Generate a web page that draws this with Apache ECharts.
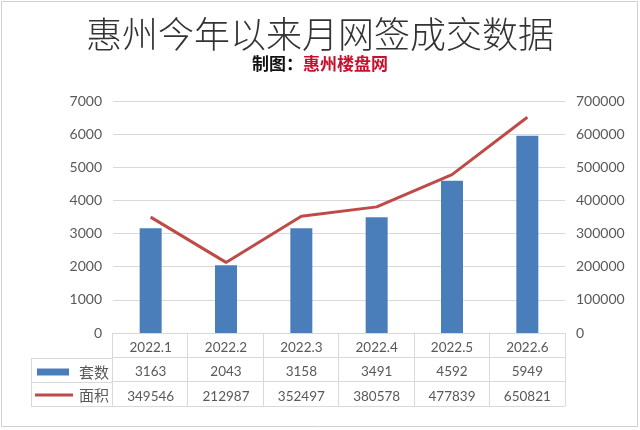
<!DOCTYPE html>
<html>
<head>
<meta charset="utf-8">
<script src="https://cdn.jsdelivr.net/npm/echarts@6/dist/echarts.min.js"></script>
<style>html,body{margin:0;padding:0;background:#fff;}#c{width:640px;height:430px;}</style>
</head>
<body>
<div id="c"></div>
<script>
const categories = ['2022.1', '2022.2', '2022.3', '2022.4', '2022.5', '2022.6'];
const units = [3163, 2043, 3158, 3491, 4592, 5949];
const areas = [349546, 212987, 352497, 380578, 477839, 650821];
const leftTicks = [0, 7000, 1000];
const rightTicks = [0, 700000, 100000];

const chart = echarts.init(document.getElementById('c'), null, {renderer: 'canvas'});
const gridColor = '#D9D9D9';
const textColor = '#595959';
const numFont = 'Lato, "Noto Sans", sans-serif';
const cjkFont = '"Noto Sans CJK SC", sans-serif';
const titleFont = '"Noto Sans CJK SC Light", "Noto Sans CJK SC DemiLight", "Noto Sans CJK SC", sans-serif';

chart.setOption({
  backgroundColor: '#fff',
  animation: false,
  title: [
    {text: '惠州今年以来月网签成交数据', left: 'center', top: 11,
     textStyle: {fontSize: 36, fontWeight: 300, color: '#333', fontFamily: titleFont}},
    {text: '{a|制图：}{b|惠州楼盘网}', left: 'center', top: 50,
     textStyle: {rich: {
       a: {fontSize: 17, fontWeight: 'bold', color: '#111', fontFamily: cjkFont},
       b: {fontSize: 17, fontWeight: 'bold', color: '#C8102E', fontFamily: cjkFont}
     }}}
  ],
  legend: [
    {data: ['套数'], left: 37, top: 364, padding: 0, itemWidth: 32, itemHeight: 7, icon: 'rect',
     textStyle: {fontSize: 15, color: textColor, fontFamily: cjkFont, lineHeight: 16, padding: [0, 0, 0, 5]}},
    {data: ['面积'], left: 35, top: 387, padding: 0, itemWidth: 38, itemHeight: 3, icon: 'rect',
     textStyle: {fontSize: 15, color: textColor, fontFamily: cjkFont, lineHeight: 16, padding: [0, 0, 0, 1]}}
  ],
  grid: [
    {left: 113, right: 75, top: 101, bottom: 97},
    {left: 112, right: 75, top: 333, height: 73},
    {left: 31, width: 81, top: 358.67, height: 47.33}
  ],
  xAxis: [
    {type: 'category', data: categories, gridIndex: 0,
     axisLine: {show: false}, axisTick: {show: false},
     axisLabel: {margin: 2, lineHeight: 24.5, fontSize: 13.5, color: textColor, fontFamily: numFont,
       formatter: (v, i) => v + '\n' + units[i] + '\n' + areas[i]}},
    {type: 'category', data: categories, gridIndex: 1, boundaryGap: true,
     axisLine: {show: false}, axisTick: {show: false}, axisLabel: {show: false},
     splitLine: {show: true, lineStyle: {color: gridColor, width: 1}}},
    {type: 'value', min: 0, max: 1, interval: 1, gridIndex: 2,
     axisLine: {show: false}, axisTick: {show: false}, axisLabel: {show: false},
     splitLine: {show: true, lineStyle: {color: gridColor, width: 1}}}
  ],
  yAxis: [
    {type: 'value', gridIndex: 0, min: leftTicks[0], max: leftTicks[1], interval: leftTicks[2],
     axisLine: {show: false}, axisTick: {show: false},
     axisLabel: {margin: 11, fontSize: 14, color: textColor, fontFamily: numFont, formatter: v => String(v)},
     splitLine: {lineStyle: {color: gridColor, width: 1}}},
    {type: 'value', gridIndex: 0, min: rightTicks[0], max: rightTicks[1], interval: rightTicks[2], position: 'right',
     axisLine: {show: false}, axisTick: {show: false},
     axisLabel: {margin: 11, fontSize: 14, color: textColor, fontFamily: numFont, formatter: v => String(v)},
     splitLine: {show: false}},
    {type: 'value', gridIndex: 1, min: 0, max: 3, interval: 1,
     axisLine: {show: false}, axisTick: {show: false}, axisLabel: {show: false},
     splitLine: {show: true, lineStyle: {color: gridColor, width: 1}}},
    {type: 'value', gridIndex: 2, min: 0, max: 2, interval: 1,
     axisLine: {show: false}, axisTick: {show: false}, axisLabel: {show: false},
     splitLine: {show: true, lineStyle: {color: gridColor, width: 1}}}
  ],
  graphic: [
    {type: 'rect', shape: {x: 1.5, y: 1.5, width: 636, height: 425}, silent: true,
     style: {fill: 'none', stroke: '#D0D0D0', lineWidth: 1}}
  ],
  series: [
    {name: '套数', type: 'bar', xAxisIndex: 0, yAxisIndex: 0, data: units, barWidth: 22,
     itemStyle: {color: '#4A7EBB'}},
    {name: '面积', type: 'line', xAxisIndex: 0, yAxisIndex: 1, data: areas, symbol: 'none',
     lineStyle: {color: '#BE4B48', width: 3}, itemStyle: {color: '#BE4B48'}}
  ]
});
</script>
</body>
</html>
